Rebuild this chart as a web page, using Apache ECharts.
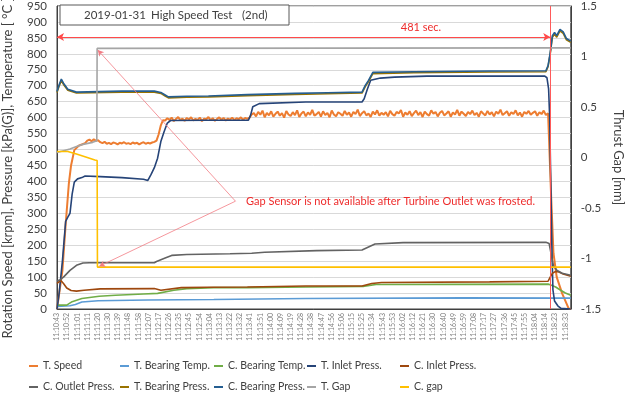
<!DOCTYPE html>
<html>
<head>
<meta charset="utf-8">
<script src="https://cdn.jsdelivr.net/npm/echarts@6/dist/echarts.min.js"></script>
<style>
html, body { margin: 0; padding: 0; background: #fff; }
#chart { width: 633px; height: 407px; }
</style>
</head>
<body>
<div id="chart"></div>
<script>
// x axis: seconds from 11:10:43, one label every 9.4 s
const labelStep = 9.4;
const timeLabels = ['11:10:43','11:10:52','11:11:01','11:11:11','11:11:20','11:11:30','11:11:39','11:11:48','11:11:58','11:12:07',
  '11:12:17','11:12:26','11:12:35','11:12:45','11:12:54','11:13:04','11:13:13','11:13:22','11:13:32','11:13:41',
  '11:13:51','11:14:00','11:14:09','11:14:19','11:14:28','11:14:38','11:14:47','11:14:56','11:15:06','11:15:15',
  '11:15:25','11:15:34','11:15:43','11:15:53','11:16:02','11:16:12','11:16:21','11:16:30','11:16:40','11:16:49',
  '11:16:59','11:17:08','11:17:17','11:17:27','11:17:36','11:17:45','11:17:55','11:18:04','11:18:14','11:18:23','11:18:33'];

const seriesNames = ['T. Speed','T. Bearing Temp.','C. Bearing Temp.','T. Inlet Press.','C. Inlet Press.',
  'C. Outlet Press.','T. Bearing Press.','C. Bearing Press.','T. Gap','C. gap'];
const seriesColors = ['#ED7D31','#5B9BD5','#70AD47','#264478','#9E480E','#636363','#997300','#255E91','#A5A5A5','#FFC000'];

// T. Speed [krpm]: ramps as [t, v], noisy plateaus sampled every 2 s
const speedRampUp = [[0,0],[2.5,60],[5,120],[8,265],[11,395],[13,450],[16,498],[20,512],[26,520]];
const speedPlateau1 = [528,531,526,532,527,529,523,520,524,518,521,517,522,520,516,521,519,523,518,520,
  517,522,519,521,516,520,523,518,521,519,522,524,528];            // t = 28..92
const speedStep1 = [[94,548],[96,576],[98,592]];
const speedPlateau2 = [591,598,593,600,589,596,602,592,597,590,599,594,601,591,596,593,600,589,597,595,
  602,592,598,590,596,601,593,599,591,597,594,600,592,598,595,601,593,599,596];   // t = 100..176
const speedStep2 = [[178,600],[180,610],[182,614]];
const speedPlateau3 = [604,618,609,622,601,615,607,620,603,612, 619,606,614,600,621,610,605,617,608,623,
  602,613,619,604,616,609,624,606,611,618, 603,620,608,615,601,622,610,604,617,612,
  606,621,609,616,603,618,611,625,605,614, 620,607,613,602,619,610,623,606,615,609,
  617,604,621,611,606,618,613,624,603,616, 609,620,605,614,622,608,617,602,619,611,
  606,623,612,618,604,615,621,607,613,620, 603,616,610,624,606,619,612,605,618,611,
  622,608,615,603,620,613,607,621,610,617, 604,619,612,625,608,614,620,606,617,611,
  623,607,616,603,618,612,621,609,615,620, 606,617,611,622,608,614];   // t = 184..454
const speedRampDown = [[455,610],[457,340],[459,175],[462,100],[467,49],[473,2],[475,0]];

const tBearingTemp = [[0,8],[12,10],[17,14],[23,22],[38,26],[84,28],[145,30],[230,33],[375,35],[475,34]];
const cBearingTemp = [[0,12],[9,12],[14,23],[23,33],[39,40],[54,43],[80,47],[93,49],[108,59],[120,64],[145,67],
  [176,67],[230,69],[283,71],[295,77],[454,78],[456,76],[461,69],[466,58],[470,50],[475,43]];
const tInletPress = [[0,0],[2,50],[5,150],[8,275],[10,288],[12,300],[14,360],[16,398],[19,408],[23,412],[26,417],
  [40,415],[60,412],[80,407],[84,403],[87,422],[90,443],[93,473],[96,525],[99,556],[102,583],[105,591],[140,592],
  [177,592],[179,608],[181,634],[187,644],[230,649],[282,649],[284,659],[287,690],[290,717],[299,724],[312,727],
  [342,730],[451,730],[453,725],[454.5,690],[455.5,600],[456.5,400],[457.5,200],[458.5,60],[460,25],[463,10],[466,2],[475,0]];
const cInletPress = [[0,80],[2,86],[4,88],[6,80],[9,66],[13,58],[18,56],[25,59],[40,63],[90,64],[96,59],[115,67],
  [140,68],[176,69],[230,72],[282,72],[291,80],[300,83],[400,85],[454,87],[456,100],[458,112],[461,118],[464,116],[468,110],[475,103]];
const cOutletPress = [[0,88],[3,92],[6,100],[12,121],[18,137],[24,144],[30,145],[90,145],[92,149],[100,160],[106,168],
  [120,171],[160,173],[180,175],[192,178],[240,183],[282,185],[294,204],[320,208],[452,209],[455,205],[457,170],
  [459,135],[462,122],[467,112],[475,106]];
const tBearingPress = [[0,679],[2,699],[4,716],[6,704],[10,686],[18,677],[60,680],[90,680],[96,676],[100,668],[103,662],
  [120,664],[140,665],[176,669],[220,673],[250,675],[282,677],[285,697],[288,713],[292,738],[330,741],[400,743],[452,744],
  [454,760],[456,800],[458,852],[460,862],[462,852],[465,872],[468,864],[471,844],[475,836]];
const cBearingPress = [[0,682],[2,703],[4,721],[6,708],[10,689],[18,680],[60,683],[90,683],[96,679],[100,671],[103,665],
  [120,667],[140,668],[176,672],[220,676],[250,678],[282,680],[285,701],[288,717],[292,742],[330,744],[400,746],[452,747],
  [454,763],[456,804],[458,857],[460,867],[462,857],[465,877],[468,869],[471,848],[475,840]];
// thrust gaps [mm], right axis
const tGap = [[0,0.05],[12,0.085],[18,0.11],[24,0.13],[33,0.15],[36.8,0.165],[37.1,1.08],[475,1.085]];
const cGap = [[0,0.06],[10,0.06],[18,0.035],[28,0.0],[35,-0.025],[37.1,-0.03],[37.4,-1.085],[475,-1.085]];

// annotation anchors (t, left-axis value)
const stopTime = 456;
const spanLevel = 853;
const noteAnchor = [165, 338];
const tGapCorner = [37.7, 812];
const cGapCorner = [39, 134];

function sampled(start, step, vals) {
    return vals.map(function (v, i) { return [start + i * step, v]; });
}

const tSpeed = [].concat(speedRampUp, sampled(28, 2, speedPlateau1), speedStep1,
    sampled(100, 2, speedPlateau2), speedStep2, sampled(184, 2, speedPlateau3), speedRampDown);

const seriesData = [tSpeed, tBearingTemp, cBearingTemp, tInletPress, cInletPress,
    cOutletPress, tBearingPress, cBearingPress, tGap, cGap];

const font = 'Lato';
const red = '#EE2B2B';

const series = seriesNames.map(function (name, i) {
    return {
        name: name,
        type: 'line',
        data: seriesData[i],
        yAxisIndex: i >= 8 ? 1 : 0,
        symbol: 'none',
        showSymbol: false,
        itemStyle: { color: seriesColors[i] },
        lineStyle: { color: seriesColors[i], width: i === 0 ? 2 : 1.6 },
        emphasis: { disabled: true }
    };
});

// red marks on the first series
series[0].markLine = {
    silent: true,
    animation: false,
    label: { show: false },
    symbol: 'none',
    data: [
        [{ coord: [stopTime, 0], symbol: 'none', lineStyle: { color: '#FF5A5A', width: 1, type: 'solid' } },
         { coord: [stopTime, 950], symbol: 'none' }],
        [{ coord: [0, spanLevel], symbol: 'arrow', symbolSize: [6, 7], lineStyle: { color: '#FF4A4A', width: 1, type: 'solid' } },
         { coord: [stopTime, spanLevel], symbol: 'arrow', symbolSize: [6, 7] }],
        [{ coord: noteAnchor, symbol: 'none', lineStyle: { color: '#F27C84', width: 0.8, type: 'solid' } },
         { coord: tGapCorner, symbol: 'arrow', symbolSize: [5, 6] }],
        [{ coord: noteAnchor, symbol: 'none', lineStyle: { color: '#F27C84', width: 0.8, type: 'solid' } },
         { coord: cGapCorner, symbol: 'arrow', symbolSize: [5, 6] }]
    ]
};

const legendCols = [
    ['T. Speed', 'C. Outlet Press.'],
    ['T. Bearing Temp.', 'T. Bearing Press.'],
    ['C. Bearing Temp.', 'C. Bearing Press.'],
    ['T. Inlet Press.', 'T. Gap'],
    ['C. Inlet Press.', 'C. gap']
];
const legendLeft = [24, 115, 209, 302, 395];

const chart = echarts.init(document.getElementById('chart'), null, { renderer: 'canvas' });
chart.setOption({
    animation: false,
    textStyle: { fontFamily: font },
    grid: { left: 57, right: 55, top: 3, bottom: 98, show: true, borderColor: '#404040', borderWidth: 1 },
    xAxis: {
        type: 'value',
        min: 0,
        max: 475,
        interval: labelStep,
        axisLine: { show: true, lineStyle: { color: '#404040' } },
        axisTick: { show: false },
        splitLine: { show: false },
        axisLabel: {
            rotate: 90,
            fontSize: 7,
            color: '#7F7F7F',
            margin: 4,
            formatter: function (v) {
                const k = Math.round(v / labelStep);
                return Math.abs(v - k * labelStep) < 0.01 && timeLabels[k] ? timeLabels[k] : '';
            }
        }
    },
    yAxis: [
        {
            type: 'value',
            min: 0,
            max: 950,
            interval: 50,
            axisLine: { show: true, lineStyle: { color: '#404040' } },
            axisTick: { show: false },
            splitLine: { lineStyle: { color: '#D9D9D9', width: 1 } },
            axisLabel: { fontSize: 11.5, color: '#404040', margin: 10 }
        },
        {
            type: 'value',
            position: 'right',
            min: -1.5,
            max: 1.5,
            interval: 0.5,
            axisLine: { show: true, lineStyle: { color: '#404040' } },
            axisTick: { show: false },
            splitLine: { show: false },
            axisLabel: { fontSize: 11.5, color: '#404040', margin: 10 },
            name: 'Thrust Gap [mm]',
            nameLocation: 'middle',
            nameRotate: -90,
            nameGap: 38,
            nameTextStyle: { fontSize: 13, color: '#404040' }
        }
    ],
    legend: legendCols.map(function (names, i) {
        return {
            data: names,
            orient: 'vertical',
            left: legendLeft[i],
            top: 354,
            icon: 'rect',
            itemWidth: 9,
            itemHeight: 2,
            itemGap: 7,
            selectedMode: false,
            textStyle: { fontSize: 10.5, color: '#404040', lineHeight: 14, fontFamily: font }
        };
    }),
    graphic: [
        {
            type: 'rect', z: 100,
            shape: { x: 60, y: 5, width: 229, height: 20 },
            style: { fill: '#fff', stroke: '#595959', lineWidth: 1 }
        },
        { type: 'text', z: 101, x: 84, y: 15.5, style: { text: '2019-01-31', fontSize: 11.5, fontFamily: font, fill: '#404040', verticalAlign: 'middle' } },
        { type: 'text', z: 101, x: 151, y: 15.5, style: { text: 'High Speed Test', fontSize: 11.5, fontFamily: font, fill: '#404040', verticalAlign: 'middle' } },
        { type: 'text', z: 101, x: 242, y: 15.5, style: { text: '(2nd)', fontSize: 11.5, fontFamily: font, fill: '#404040', verticalAlign: 'middle' } },
        { type: 'text', z: 101, x: 421, y: 27, style: { text: '481 sec.', fontSize: 11, fontFamily: font, fill: red, align: 'center', verticalAlign: 'middle' } },
        { type: 'text', z: 101, x: 246, y: 201, style: { text: 'Gap Sensor is not available after Turbine Outlet was frosted.', fontSize: 11, fontFamily: font, fill: red, verticalAlign: 'middle' } },
        {
            type: 'text', z: 101, x: 8, y: 168, rotation: Math.PI / 2,
            style: { text: 'Rotation Speed [krpm], Pressure [kPa(G)], Temperature [ °C ]', fontSize: 13, fontFamily: font, fill: '#404040', align: 'center', verticalAlign: 'middle' }
        }
    ],
    series: series
});
</script>
</body>
</html>
